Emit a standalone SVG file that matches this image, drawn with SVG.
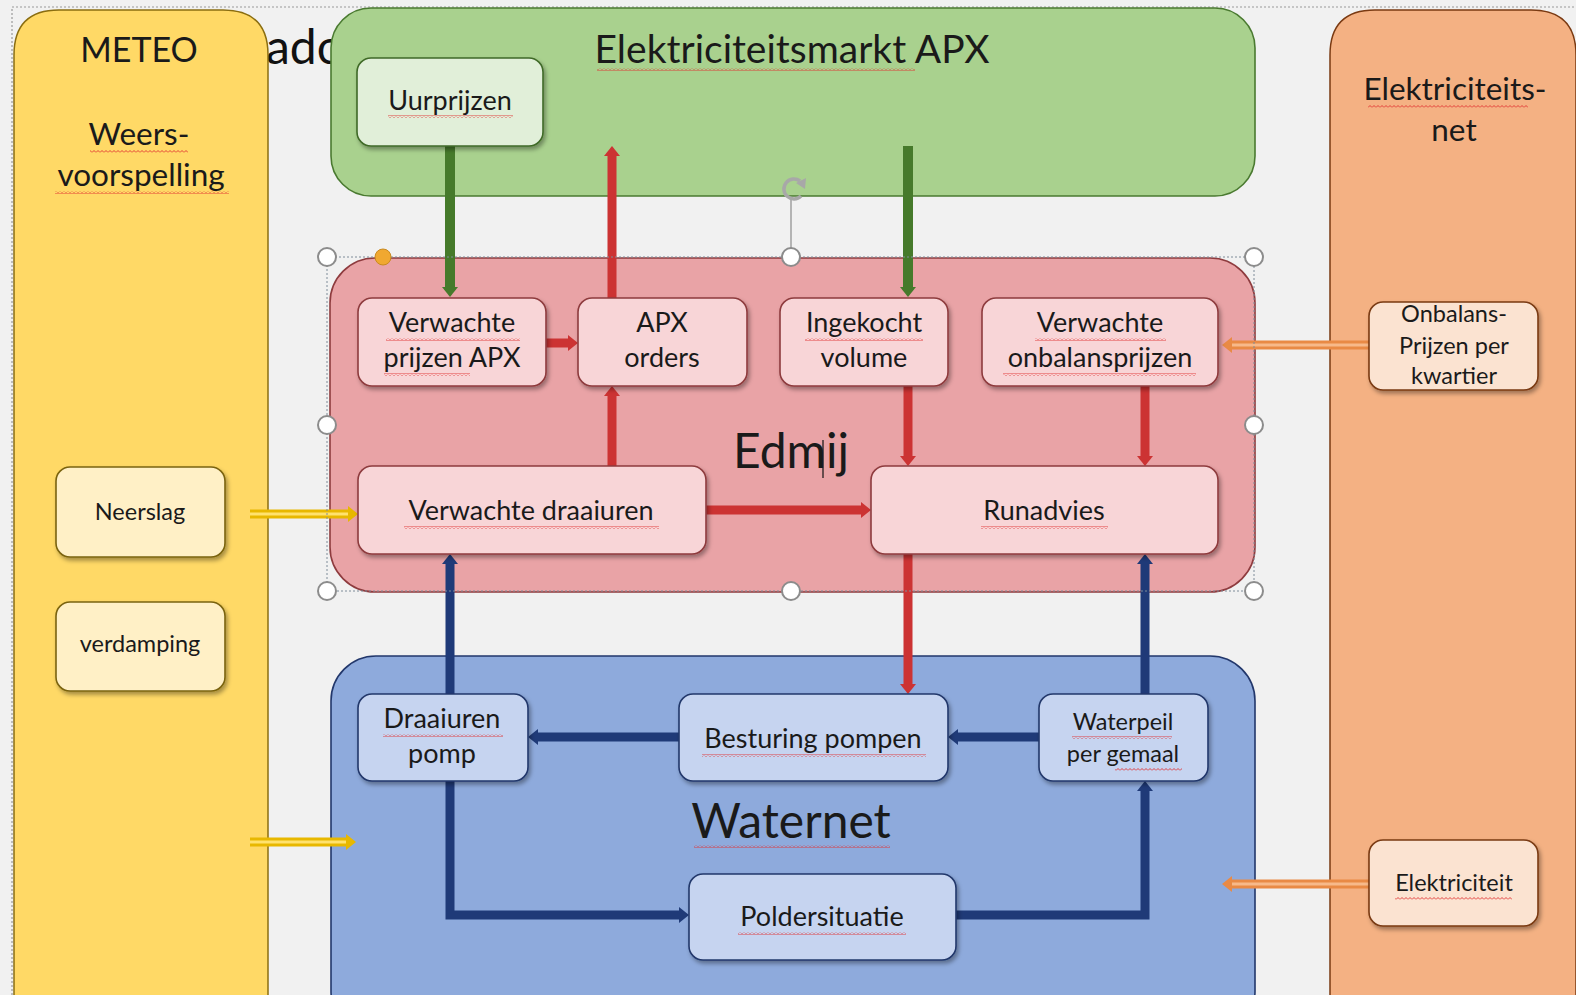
<svg xmlns="http://www.w3.org/2000/svg" width="1576" height="995" viewBox="0 0 1576 995">
<defs>
<style>
text{font-family:Lato,"Liberation Sans",sans-serif;fill:#1a1a1a;text-anchor:middle}
.t24{font-size:27px}
.t22{font-size:23.5px}
.t30{font-size:31.5px}
.big{font-size:48px}
.box{stroke-width:1.6;filter:url(#sh)}
.pink{fill:#f8d5d7;stroke:#8e3b3e}
.blue{fill:#c6d4f0;stroke:#22376b}
.yel{fill:#fff0c6;stroke:#7a6310}
.ora{fill:#fbe3d1;stroke:#7a3a12}
.grn{fill:#e1efd9;stroke:#3f6a28}
.ar{fill:none;stroke-linejoin:miter}
.g{stroke:#467a2b;stroke-width:10}
.r{stroke:#cc3333;stroke-width:9}
.n{stroke:#1f3a78;stroke-width:9}
.o{stroke:#e98a45;stroke-width:9}
.oi{stroke:#f7b98a;stroke-width:3}
.y{stroke:#e8b800;stroke-width:9}
.yi{stroke:#ffe26e;stroke-width:3}
.sq{fill:url(#wavy)}
.hd{fill:#fff;stroke:#8c8c8c;stroke-width:2}
</style>
<filter id="sh" x="-20%" y="-20%" width="140%" height="150%">
<feDropShadow dx="2" dy="3" stdDeviation="2" flood-color="#000" flood-opacity="0.35"/>
</filter>
<pattern id="wavy" patternUnits="userSpaceOnUse" width="4" height="3">
<path d="M0,2.5 L2,0.5 L4,2.5" fill="none" stroke="#e03030" stroke-width="0.9"/>
</pattern>
<marker id="mg" viewBox="0 -8 10 16" refX="0" refY="0" markerWidth="10" markerHeight="16" markerUnits="userSpaceOnUse" orient="auto"><path d="M0,-8 L10,0 L0,8 z" fill="#467a2b"/></marker>
<marker id="mr" viewBox="0 -8 10 16" refX="0" refY="0" markerWidth="10" markerHeight="16" markerUnits="userSpaceOnUse" orient="auto"><path d="M0,-8 L10,0 L0,8 z" fill="#cc3333"/></marker>
<marker id="mn" viewBox="0 -8 10 16" refX="0" refY="0" markerWidth="10" markerHeight="16" markerUnits="userSpaceOnUse" orient="auto"><path d="M0,-8 L10,0 L0,8 z" fill="#1f3a78"/></marker>
<marker id="mo" viewBox="0 -8 10 16" refX="0" refY="0" markerWidth="10" markerHeight="16" markerUnits="userSpaceOnUse" orient="auto"><path d="M0,-8 L10,0 L0,8 z" fill="#e98a45"/></marker>
<marker id="my" viewBox="0 -8 10 16" refX="0" refY="0" markerWidth="10" markerHeight="16" markerUnits="userSpaceOnUse" orient="auto"><path d="M0,-8 L10,0 L0,8 z" fill="#e8b800"/></marker>
</defs>

<rect x="0" y="0" width="1576" height="995" fill="#f1f1f1"/>
<rect x="12" y="7" width="1600" height="1000" fill="none" stroke="#9a9a9a" stroke-width="1.2" stroke-dasharray="2 2"/>

<!-- hidden title fragment -->
<text x="266" y="64" style="font-size:48px;fill:#111;text-anchor:start">ado</text>

<!-- Panels -->
<g id="meteo">
<path d="M14,1000 L14,55 Q14,10 59,10 L223,10 Q268,10 268,55 L268,1000" fill="#ffd966" stroke="#8a6d10" stroke-width="1.5"/>
<text x="139" y="62" style="font-size:34px">METEO</text>
<text x="139" y="145" class="t30">Weers-</text>
<text x="141" y="186" class="t30">voorspelling</text>
<rect class="sq" x="90" y="150" width="98" height="3"/>
<rect class="sq" x="55" y="191" width="174" height="3"/>
</g>

<g id="apx">
<rect x="331" y="8" width="924" height="188" rx="40" fill="#a9d18e" stroke="#4a7a30" stroke-width="1.6"/>
<text x="792" y="63" style="font-size:39px">Elektriciteitsmarkt APX</text>
<rect class="sq" x="597" y="68" width="318" height="3"/>
</g>

<g id="net">
<path d="M1330,1000 L1330,55 Q1330,10 1375,10 L1531,10 Q1576,10 1576,55 L1576,1000" fill="#f4b183" stroke="#7a3a12" stroke-width="1.5"/>
<text x="1455" y="100" class="t30">Elektriciteits-</text>
<text x="1454" y="141" class="t30">net</text>
<rect class="sq" x="1368" y="105" width="160" height="3"/>
</g>

<g id="edmij">
<rect x="330" y="258" width="925" height="334" rx="45" fill="#e9a3a6" stroke="#8e3b3e" stroke-width="1.6"/>
<text x="791" y="468" class="big">Edmij</text>
<line x1="823" y1="440" x2="823" y2="478" stroke="#111" stroke-width="1.2"/>
</g>

<g id="waternet">
<rect x="331" y="656" width="924" height="380" rx="45" fill="#8eaadc" stroke="#22376b" stroke-width="1.6"/>
<text x="791" y="838" class="big">Waternet</text>
<rect class="sq" x="694" y="845" width="196" height="3"/>
</g>

<!-- Connectors -->
<g id="connectors">
<path class="ar g" d="M450,146 L450,287" marker-end="url(#mg)"/>
<path class="ar g" d="M908,146 L908,287" marker-end="url(#mg)"/>
<path class="ar r" d="M612,298 L612,156" marker-end="url(#mr)"/>
<path class="ar r" d="M546,343 L568,343" marker-end="url(#mr)"/>
<path class="ar r" d="M612,466 L612,396" marker-end="url(#mr)"/>
<path class="ar r" d="M908,386 L908,456" marker-end="url(#mr)"/>
<path class="ar r" d="M1145,386 L1145,456" marker-end="url(#mr)"/>
<path class="ar r" d="M706,510 L861,510" marker-end="url(#mr)"/>
<path class="ar r" d="M908,554 L908,684" marker-end="url(#mr)"/>
<path class="ar o" d="M1369,345 L1232,345" marker-end="url(#mo)"/>
<path class="ar oi" d="M1369,345 L1232,345"/>
<path class="ar o" d="M1369,884 L1232,884" marker-end="url(#mo)"/>
<path class="ar oi" d="M1369,884 L1232,884"/>
<path class="ar y" d="M250,514 L348,514" marker-end="url(#my)"/>
<path class="ar yi" d="M250,514 L348,514"/>
<path class="ar y" d="M250,842 L346,842" marker-end="url(#my)"/>
<path class="ar yi" d="M250,842 L346,842"/>
<path class="ar n" d="M450,694 L450,564" marker-end="url(#mn)"/>
<path class="ar n" d="M679,737 L538,737" marker-end="url(#mn)"/>
<path class="ar n" d="M1039,737 L958,737" marker-end="url(#mn)"/>
<path class="ar n" d="M450,781 L450,915 L679,915" marker-end="url(#mn)"/>
<path class="ar n" d="M956,915 L1145,915 L1145,791" marker-end="url(#mn)"/>
<path class="ar n" d="M1145,694 L1145,564" marker-end="url(#mn)"/>
</g>

<!-- Nodes -->
<g id="uurprijzen">
<rect class="box grn" x="357" y="58" width="186" height="88" rx="14"/>
<text x="450" y="110" class="t24">Uurprijzen</text>
<rect class="sq" x="388" y="115" width="125" height="3"/>
</g>
<g id="neerslag">
<rect class="box yel" x="56" y="467" width="169" height="90" rx="14"/>
<text x="140" y="520" class="t22">Neerslag</text>
</g>
<g id="verdamping">
<rect class="box yel" x="56" y="602" width="169" height="89" rx="14"/>
<text x="140" y="652" class="t22">verdamping</text>
</g>
<g id="verwachte-prijzen-apx">
<rect class="box pink" x="358" y="298" width="188" height="88" rx="14"/>
<text x="452" y="332" class="t24">Verwachte</text>
<text x="452" y="367" class="t24">prijzen APX</text>
<rect class="sq" x="386" y="338" width="134" height="3"/>
<rect class="sq" x="384" y="373" width="86" height="3"/>
</g>
<g id="apx-orders">
<rect class="box pink" x="578" y="298" width="169" height="88" rx="14"/>
<text x="662" y="332" class="t24">APX</text>
<text x="662" y="367" class="t24">orders</text>
</g>
<g id="ingekocht-volume">
<rect class="box pink" x="780" y="298" width="168" height="88" rx="14"/>
<text x="864" y="332" class="t24">Ingekocht</text>
<text x="864" y="367" class="t24">volume</text>
<rect class="sq" x="805" y="338" width="118" height="3"/>
</g>
<g id="verwachte-onbalansprijzen">
<rect class="box pink" x="982" y="298" width="236" height="88" rx="14"/>
<text x="1100" y="332" class="t24">Verwachte</text>
<text x="1100" y="367" class="t24">onbalansprijzen</text>
<rect class="sq" x="1035" y="338" width="131" height="3"/>
<rect class="sq" x="1003" y="373" width="193" height="3"/>
</g>
<g id="verwachte-draaiuren">
<rect class="box pink" x="358" y="466" width="348" height="88" rx="14"/>
<text x="531" y="520" class="t24">Verwachte draaiuren</text>
<rect class="sq" x="404" y="526" width="255" height="3"/>
</g>
<g id="runadvies">
<rect class="box pink" x="871" y="466" width="347" height="88" rx="14"/>
<text x="1044" y="520" class="t24">Runadvies</text>
<rect class="sq" x="981" y="526" width="127" height="3"/>
</g>
<g id="draaiuren-pomp">
<rect class="box blue" x="358" y="694" width="170" height="87" rx="14"/>
<text x="442" y="728" class="t24">Draaiuren</text>
<text x="442" y="763" class="t24">pomp</text>
<rect class="sq" x="383" y="734" width="120" height="3"/>
</g>
<g id="besturing-pompen">
<rect class="box blue" x="679" y="694" width="269" height="87" rx="14"/>
<text x="813" y="748" class="t24">Besturing pompen</text>
<rect class="sq" x="702" y="754" width="224" height="3"/>
</g>
<g id="waterpeil">
<rect class="box blue" x="1039" y="694" width="169" height="87" rx="14"/>
<text x="1123" y="730" class="t22">Waterpeil</text>
<text x="1123" y="762" class="t22">per gemaal</text>
<rect class="sq" x="1072" y="736" width="100" height="3"/>
<rect class="sq" x="1115" y="768" width="67" height="3"/>
</g>
<g id="poldersituatie">
<rect class="box blue" x="689" y="874" width="267" height="86" rx="14"/>
<text x="822" y="926" class="t24">Poldersituatie</text>
<rect class="sq" x="738" y="932" width="168" height="3"/>
</g>
<g id="onbalans-prijzen">
<rect class="box ora" x="1369" y="302" width="169" height="88" rx="14"/>
<text x="1454" y="322" class="t22">Onbalans-</text>
<text x="1454" y="354" class="t22">Prijzen per</text>
<text x="1454" y="384" class="t22">kwartier</text>
</g>
<g id="elektriciteit">
<rect class="box ora" x="1369" y="840" width="169" height="86" rx="14"/>
<text x="1454" y="891" class="t22">Elektriciteit</text>
<rect class="sq" x="1395" y="897" width="117" height="3"/>
</g>

<!-- selection handles -->
<g id="selection">
<rect x="327" y="257" width="927" height="334" fill="none" stroke="#7f8c99" stroke-width="1" stroke-dasharray="2 2"/>
<line x1="791" y1="200" x2="791" y2="257" stroke="#8c8c8c" stroke-width="1.2"/>
<path d="M800,181 A10,10 0 1 0 801,196" fill="none" stroke="#a8a8a8" stroke-width="3.5"/>
<path d="M796,183 L806,178 L805,189 z" fill="#a8a8a8"/>
<circle class="hd" cx="327" cy="257" r="9"/>
<circle class="hd" cx="791" cy="257" r="9"/>
<circle class="hd" cx="1254" cy="257" r="9"/>
<circle class="hd" cx="327" cy="425" r="9"/>
<circle class="hd" cx="1254" cy="425" r="9"/>
<circle class="hd" cx="327" cy="591" r="9"/>
<circle class="hd" cx="791" cy="591" r="9"/>
<circle class="hd" cx="1254" cy="591" r="9"/>
<circle cx="383" cy="257" r="8" fill="#f0a830" stroke="#c98a20" stroke-width="1"/>
</g>
</svg>
